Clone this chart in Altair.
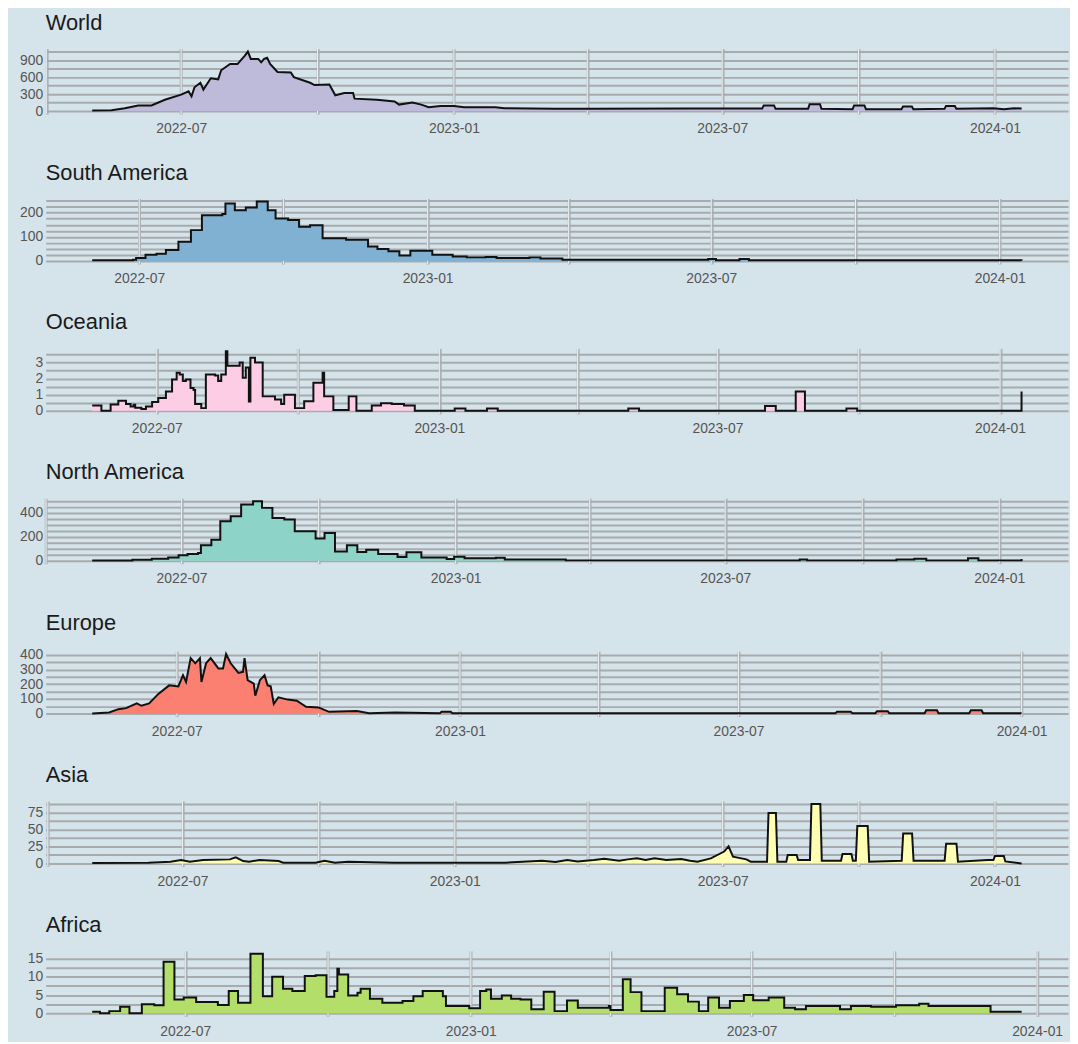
import altair as alt
import pandas as pd

# ---------------- data ----------------
world_dates = ["2022-05-02","2022-05-15","2022-05-24","2022-06-02","2022-06-11","2022-06-20","2022-07-01",
    "2022-07-06","2022-07-08","2022-07-10","2022-07-14","2022-07-16","2022-07-21","2022-07-26","2022-07-28",
    "2022-08-03","2022-08-08","2022-08-13","2022-08-15","2022-08-17","2022-08-22","2022-08-24","2022-08-26",
    "2022-08-28","2022-08-30","2022-09-04","2022-09-13","2022-09-15","2022-09-26","2022-09-29","2022-10-09",
    "2022-10-13","2022-10-19","2022-10-25","2022-10-26","2022-11-10","2022-11-22","2022-11-25","2022-12-04",
    "2022-12-10","2022-12-15","2022-12-23","2023-01-01","2023-01-08","2023-01-29","2023-02-04","2023-03-10",
    "2023-04-02","2023-06-07","2023-07-28","2023-07-29","2023-08-05","2023-08-06","2023-08-28","2023-08-29",
    "2023-09-05","2023-09-06","2023-09-27","2023-09-28","2023-10-05","2023-10-06","2023-10-30","2023-10-31",
    "2023-11-06","2023-11-07","2023-11-28","2023-11-29","2023-12-05","2023-12-06","2023-12-31","2024-01-07",
    "2024-01-14","2024-01-19"]
world_vals = [10,15,50,100,100,200,290,350,260,420,500,380,580,560,720,830,830,980,1050,920,920,860,920,
    940,830,690,680,600,500,460,470,280,320,320,220,200,170,115,150,115,70,90,90,70,70,50,40,40,45,45,100,
    100,40,40,120,120,40,35,100,100,35,35,80,80,35,40,90,90,40,50,35,50,45]

sa_dates = ["2022-06-01","2022-06-27","2022-06-29","2022-07-05","2022-07-12","2022-07-18","2022-07-26",
    "2022-08-03","2022-08-10","2022-08-23","2022-08-25","2022-08-31","2022-09-07","2022-09-14","2022-09-21",
    "2022-09-26","2022-10-04","2022-10-11","2022-10-18","2022-10-26","2022-11-10","2022-11-24","2022-11-30",
    "2022-12-07","2022-12-14","2022-12-21","2023-01-04","2023-01-17","2023-01-26","2023-02-07","2023-02-14",
    "2023-03-07","2023-03-14","2023-03-28","2023-06-29","2023-07-04","2023-07-19","2023-07-25","2024-01-15"]
sa_vals = [3,5,12,26,30,46,80,128,190,195,238,210,222,247,210,176,170,142,148,94,88,60,50,40,23,42,26,19,
    15,17,12,15,10,5,8,3,8,3,2]

oc_dates = ["2022-05-20","2022-05-26","2022-06-01","2022-06-06","2022-06-11","2022-06-14","2022-06-16",
    "2022-06-17","2022-06-21","2022-06-24","2022-06-28","2022-07-02","2022-07-07","2022-07-11","2022-07-14",
    "2022-07-16","2022-07-18","2022-07-20","2022-07-23","2022-07-25","2022-07-26","2022-07-30","2022-08-02",
    "2022-08-08","2022-08-10","2022-08-12","2022-08-15","2022-08-16","2022-08-23","2022-08-24","2022-08-26",
    "2022-08-28","2022-08-30","2022-08-31","2022-09-03","2022-09-07","2022-09-08","2022-09-16","2022-09-20",
    "2022-09-22","2022-09-27","2022-09-29","2022-10-05","2022-10-11","2022-10-17","2022-10-18","2022-10-22",
    "2022-10-24","2022-11-03","2022-11-08","2022-11-18","2022-11-24","2022-12-01","2022-12-09","2022-12-16",
    "2023-01-11","2023-01-18","2023-02-01","2023-02-08","2023-05-04","2023-05-11","2023-08-01","2023-08-08",
    "2023-08-21","2023-08-27","2023-09-23","2023-09-30","2024-01-14","2024-01-15"]
oc_vals = [0.34,0,0.4,0.63,0.42,0.27,0.38,0.2,0.12,0.27,0.55,0.8,1.2,1.95,2.37,2.26,1.85,1.95,1.42,1.3,
    0.42,0.17,2.26,2.2,1.85,2.26,3.7,2.8,2.8,3.0,2.05,2.7,0.58,3.3,3.0,3.0,0.9,0.7,0.42,1.0,1.0,0.17,0.6,
    1.75,2.37,0.9,0.9,0.05,0.9,0,0.34,0.48,0.42,0.34,0,0.15,0,0.15,0,0.15,0,0.3,0,1.2,0,0.15,0,0,1.2]

na_dates = ["2022-05-02","2022-05-29","2022-06-11","2022-06-22","2022-06-29","2022-07-05","2022-07-12",
    "2022-07-14","2022-07-21","2022-07-27","2022-08-03","2022-08-10","2022-08-18","2022-08-24","2022-08-31",
    "2022-09-08","2022-09-15","2022-09-29","2022-10-05","2022-10-12","2022-10-20","2022-10-27","2022-11-02",
    "2022-11-10","2022-11-23","2022-11-29","2022-12-09","2022-12-26","2022-12-31","2023-01-07","2023-01-28",
    "2023-02-03","2023-03-16","2023-08-20","2023-08-25","2023-10-24","2023-11-05","2023-11-13","2023-12-11",
    "2023-12-18","2024-01-16"]
na_vals = [2,8,17,28,45,56,64,129,176,330,372,470,498,442,358,344,246,185,232,78,129,73,92,56,31,70,28,14,
    34,20,25,11,3,11,3,11,17,3,20,3,14]

eu_dates = ["2022-05-07","2022-05-18","2022-05-24","2022-05-29","2022-06-05","2022-06-08","2022-06-13",
    "2022-06-19","2022-06-26","2022-07-02","2022-07-05","2022-07-07","2022-07-10","2022-07-13","2022-07-16",
    "2022-07-17","2022-07-20","2022-07-23","2022-07-28","2022-07-31","2022-08-02","2022-08-05","2022-08-10",
    "2022-08-13","2022-08-14","2022-08-16","2022-08-20","2022-08-21","2022-08-24","2022-08-27","2022-08-29",
    "2022-08-31","2022-09-02","2022-09-05","2022-09-11","2022-09-17","2022-09-23","2022-10-01","2022-10-08",
    "2022-10-26","2022-11-03","2022-11-20","2022-12-19","2022-12-20","2022-12-26","2022-12-27","2023-02-16",
    "2023-05-01","2023-07-15","2023-09-02","2023-09-03","2023-09-12","2023-09-13","2023-09-28","2023-09-29",
    "2023-10-06","2023-10-07","2023-10-30","2023-10-31","2023-11-07","2023-11-08","2023-11-28","2023-11-29",
    "2023-12-06","2023-12-07","2024-01-01"]
eu_vals = [0,7,30,37,69,53,69,134,192,185,261,215,377,342,377,215,342,377,307,307,405,342,277,284,377,227,
    203,122,227,261,192,185,65,111,95,88,46,42,12,18,2,7,3,12,12,2,3,2,3,3,12,12,3,3,16,16,3,3,23,23,3,3,23,
    23,3,2]

as_dates = ["2022-05-01","2022-06-08","2022-06-23","2022-06-30","2022-07-06","2022-07-15","2022-08-02",
    "2022-08-06","2022-08-11","2022-08-15","2022-08-22","2022-09-04","2022-09-07","2022-09-29","2022-10-05",
    "2022-10-12","2022-10-21","2022-11-21","2023-02-04","2023-03-01","2023-03-10","2023-03-18","2023-03-25",
    "2023-04-05","2023-04-12","2023-04-22","2023-04-28","2023-05-04","2023-05-10","2023-05-16","2023-05-24",
    "2023-06-03","2023-06-09","2023-06-14","2023-06-23","2023-07-02","2023-07-05","2023-07-08","2023-07-17",
    "2023-07-20","2023-07-31","2023-08-01","2023-08-06","2023-08-07","2023-08-13","2023-08-14","2023-08-20",
    "2023-08-21","2023-08-29","2023-08-30","2023-09-05","2023-09-06","2023-09-19","2023-09-20","2023-09-26",
    "2023-09-27","2023-09-29","2023-09-30","2023-10-07","2023-10-08","2023-10-30","2023-10-31","2023-11-06",
    "2023-11-07","2023-11-28","2023-11-29","2023-12-06","2023-12-07","2023-12-27","2023-12-31","2024-01-01",
    "2024-01-07","2024-01-08","2024-01-19"]
as_vals = [0.5,1,2.5,5,2.5,5,6,9,3.5,2.5,5,3.5,1,1,4,1,2.5,1,1,4,2,5,3,5,7,4,6,7.5,5,7.5,5,6.5,4,2.5,7.5,
    17.5,25,10,6,2.5,2.5,74,74,2.5,2.5,12.5,12.5,5,5,87.5,87.5,4,4,14,14,4,4,55,55,2.5,4,44,44,4,4,29,29,2.5,
    5,5,11,11,3,0]

af_dates = ["2022-05-02","2022-05-07","2022-05-13","2022-05-20","2022-05-26","2022-06-03","2022-06-11",
    "2022-06-17","2022-06-24","2022-06-30","2022-07-08","2022-07-22","2022-07-29","2022-08-04","2022-08-12",
    "2022-08-20","2022-08-26","2022-09-02","2022-09-08","2022-09-16","2022-09-23","2022-09-30","2022-10-05",
    "2022-10-07","2022-10-08","2022-10-14","2022-10-20","2022-10-22","2022-10-28","2022-11-05","2022-11-18",
    "2022-11-25","2022-12-01","2022-12-14","2022-12-16","2022-12-31","2023-01-07","2023-01-11","2023-01-14",
    "2023-01-21","2023-01-27","2023-02-02","2023-02-09","2023-02-17","2023-02-24","2023-03-04","2023-03-11",
    "2023-03-31","2023-04-01","2023-04-09","2023-04-14","2023-04-21","2023-05-06","2023-05-14","2023-05-21",
    "2023-05-28","2023-06-03","2023-06-10","2023-06-17","2023-06-26","2023-07-02","2023-07-12","2023-07-22",
    "2023-07-29","2023-08-05","2023-08-27","2023-09-03","2023-09-16","2023-10-02","2023-10-17","2023-10-23",
    "2023-12-01","2023-12-02","2023-12-22"]
af_vals = [0.4,0,0.6,1.8,0,2.5,2.2,14.1,3.8,4.3,3.1,2.3,6.1,2.9,16.3,4.7,10,6.7,6.1,10.2,10.4,4.5,6.1,12.2,
    10.6,4.9,5.6,6.7,4,2.9,3.4,4.7,6.1,4.7,2,1.4,6.1,6.5,4,4.9,4,3.8,1.1,5.9,0.6,3.5,1.5,2,0.9,9.3,5.8,0.6,7,
    5.2,3.2,0.6,4.3,1.5,3.4,5,3.6,4.3,1.5,1.1,2,1.1,2,1.8,2.2,2.6,2,2,0.45,0.45]

# name, dates, values, fill, minor grid step, labelled step, interpolation
panels = [
    ("World", world_dates, world_vals, "#bebada", 150, 300, "linear"),
    ("South America", sa_dates, sa_vals, "#80b1d3", 25, 50, "step-after"),
    ("Oceania", oc_dates, oc_vals, "#fccde5", 0.5, 1, "step-after"),
    ("North America", na_dates, na_vals, "#8dd3c7", 50, 100, "step-after"),
    ("Europe", eu_dates, eu_vals, "#fb8072", 50, 100, "linear"),
    ("Asia", as_dates, as_vals, "#ffffb3", 12.5, 25, "linear"),
    ("Africa", af_dates, af_vals, "#b3de69", 2.5, 5, "step-after"),
]

W = 1030
H = 66


def dt(ts):
    return alt.DateTime(year=int(ts.year), month=int(ts.month), date=int(ts.day), hours=int(ts.hour))


def make_panel(name, dates, vals, color, minor, major, interp):
    t = pd.to_datetime(dates)
    df = pd.DataFrame({"date": dates, "value": vals})
    d0, d1 = t.min(), t.max()
    pad = (d1 - d0) * 0.05
    lo, hi = d0 - pad, d1 + pad
    qs = pd.date_range(lo.normalize(), hi, freq="QS")
    xvals = [dt(q) for q in qs]
    grid_df = pd.DataFrame({"date": [q.strftime("%Y-%m-%d") for q in qs]})
    vmax = max(vals)
    top = vmax * 1.05
    n = int(top / minor + 1e-9)
    yvals = [round(i * minor, 4) for i in range(n + 1)]

    xscale = alt.Scale(domain=[dt(lo), dt(hi)], nice=False)
    x = alt.X("date:T", scale=xscale,
              axis=alt.Axis(values=xvals, title=None,
                            labelExpr="month(datum.value) % 6 == 0 ? timeFormat(datum.value, '%Y-%m') : ''",
                            gridColor="#adb3b8", gridWidth=3, labelPadding=8))
    y = alt.Y("value:Q",
              scale=alt.Scale(domain=[-0.05 * vmax, top], nice=False, zero=False),
              axis=alt.Axis(values=yvals, title=None, format="~f",
                            labelExpr=f"abs(datum.value / {major} - round(datum.value / {major})) < 0.001 ? datum.label : ''",
                            minExtent=33, maxExtent=33, labelPadding=3))
    vlines = alt.Chart(grid_df).mark_rule(color="#eef2f4", strokeWidth=1).encode(
        x=alt.X("date:T", scale=xscale), y=alt.value(0), y2=alt.value(H))
    base = alt.Chart(df).encode(x=x, y=y)
    area = base.mark_area(color=color, opacity=1, interpolate=interp)
    line = base.mark_line(color="#111111", strokeWidth=2, interpolate=interp)
    return alt.layer(vlines, area, line).properties(
        width=W, height=H,
        title=alt.TitleParams(name, anchor="start", frame="group", fontSize=22,
                              font="Liberation Sans", fontWeight="normal", color="#1a1a1a", offset=13),
    )


chart = alt.vconcat(*[make_panel(*p) for p in panels], spacing=26).configure(
    background="#d5e3ea",
    padding={"left": 5, "top": 0, "right": 2, "bottom": 0},
).configure_view(stroke=None).configure_axis(
    domain=False, ticks=False,
    labelColor="#555555", labelFontSize=14, labelFont="Liberation Sans Narrow, Liberation Sans",
    gridColor="#a7abae", gridWidth=2,
)

chart.save("out.html", embed_options={"renderer": "svg", "actions": False})
